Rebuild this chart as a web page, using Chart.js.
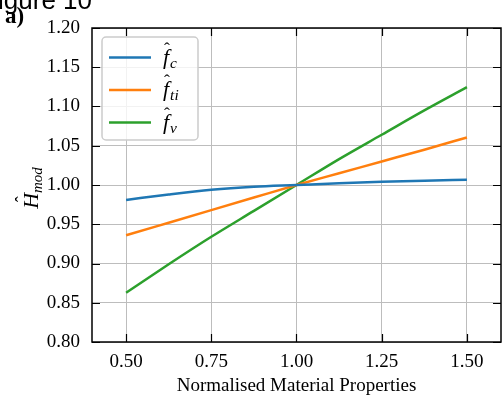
<!DOCTYPE html>
<html lang="en">
<head>
    <meta charset="UTF-8">
    <title>Figure 10 a)</title>
    <script src="https://cdn.jsdelivr.net/npm/chart.js"></script>
    <style>
        html, body { margin: 0; padding: 0; background: #fff; }
        #wrap { width: 503px; height: 397px; position: relative; }
    </style>
</head>
<body>
    <div id="wrap"><canvas id="chart" width="503" height="397"></canvas></div>
    <script>
        // Werte
        const props = [0.5, 0.625, 0.75, 0.875, 1.0, 1.125, 1.25, 1.375, 1.5];
        const fC  = [0.981, 0.988, 0.994, 0.9978, 1.000, 1.0022, 1.0040, 1.0055, 1.0068];
        const fTi = [0.936, 0.952, 0.968, 0.984, 1.000, 1.015, 1.030, 1.045, 1.0606];
        const fV  = [0.8628, 0.899, 0.934, 0.967, 1.000, 1.033, 1.064, 1.095, 1.1246];

        const xTicks = [0.5, 0.75, 1.0, 1.25, 1.5];
        const yTicks = [0.80, 0.85, 0.90, 0.95, 1.00, 1.05, 1.10, 1.15, 1.20];

        const seriesSubs = ['c', 'ti', 'v'];
        const colors = ['#1f77b4', '#ff7f0e', '#2ca02c'];

        const serif = '"Liberation Serif", "DejaVu Serif", serif';

        function toPoints(ys) {
            return props.map((x, i) => ({ x: x, y: ys[i] }));
        }

        // f mit Dach und Index
        function drawMath(ctx, x, y, base, sub, size) {
            ctx.font = 'italic ' + size + 'px ' + serif;
            ctx.textAlign = 'left';
            ctx.textBaseline = 'alphabetic';
            const w = ctx.measureText(base).width;
            ctx.fillText(base, x, y);
            ctx.font = (size * 0.8) + 'px ' + serif;
            ctx.textAlign = 'center';
            ctx.fillText('\u02C6', x + w * 0.65, y - size * 0.45);
            ctx.textAlign = 'left';
            ctx.font = 'italic ' + (size * 0.7) + 'px ' + serif;
            ctx.fillText(sub, x + w + 1, y + size * 0.2);
        }

        const decoPlugin = {
            id: 'deco',
            afterDraw(chart) {
                const ctx = chart.ctx;
                const a = chart.chartArea;
                const xs = chart.scales.x, ys = chart.scales.y;
                ctx.save();

                // Ticks nach innen
                ctx.strokeStyle = '#000';
                ctx.lineWidth = 1.2;
                const tl = 8;
                ctx.beginPath();
                xTicks.forEach(v => {
                    const px = Math.round(xs.getPixelForValue(v)) + 0.5;
                    ctx.moveTo(px, a.bottom); ctx.lineTo(px, a.bottom - tl);
                    ctx.moveTo(px, a.top); ctx.lineTo(px, a.top + tl);
                });
                yTicks.forEach(v => {
                    const py = Math.round(ys.getPixelForValue(v)) + 0.5;
                    ctx.moveTo(a.left, py); ctx.lineTo(a.left + tl, py);
                    ctx.moveTo(a.right, py); ctx.lineTo(a.right - tl, py);
                });
                ctx.stroke();

                // Rahmen
                ctx.lineWidth = 1.5;
                ctx.strokeRect(a.left, a.top, a.right - a.left, a.bottom - a.top);

                // Legende
                const lx = 102, ly = 37, lw = 96, lh = 103;
                ctx.beginPath();
                ctx.roundRect(lx, ly, lw, lh, 4);
                ctx.fillStyle = 'rgba(255,255,255,0.8)';
                ctx.fill();
                ctx.strokeStyle = '#cccccc';
                ctx.lineWidth = 1.5;
                ctx.stroke();
                seriesSubs.forEach((s, i) => {
                    const y = 57.5 + i * 32.5;
                    ctx.strokeStyle = colors[i];
                    ctx.lineWidth = 2.5;
                    ctx.beginPath();
                    ctx.moveTo(109, y); ctx.lineTo(151, y);
                    ctx.stroke();
                    ctx.fillStyle = '#000';
                    drawMath(ctx, 163, y + 6, 'f', s, 22);
                });

                // Achsentitel
                ctx.fillStyle = '#000';
                ctx.font = '19px ' + serif;
                ctx.textAlign = 'center';
                ctx.textBaseline = 'alphabetic';
                ctx.fillText('Normalised Material Properties', (a.left + a.right) / 2, 391);

                ctx.save();
                ctx.translate(38, (a.top + a.bottom) / 2 + 3);
                ctx.rotate(-Math.PI / 2);
                ctx.font = 'italic 22px ' + serif;
                const hw = ctx.measureText('H').width;
                ctx.font = 'italic 15px ' + serif;
                const sw = ctx.measureText('mod').width;
                const x0 = -(hw + sw) / 2;
                ctx.textAlign = 'left';
                ctx.font = 'italic 22px ' + serif;
                ctx.fillText('H', x0, 0);
                ctx.font = '18px ' + serif;
                ctx.textAlign = 'center';
                ctx.fillText('\u02C6', x0 + hw * 0.6, -10);
                ctx.textAlign = 'left';
                ctx.font = 'italic 15px ' + serif;
                ctx.fillText('mod', x0 + hw, 4);
                ctx.restore();

                // Beschriftung oben links (angeschnitten)
                ctx.font = '26px "Liberation Sans", Arial, sans-serif';
                ctx.textAlign = 'right';
                ctx.fillText('Figure 10', 92, 9);
                ctx.font = 'bold 23px ' + serif;
                ctx.textAlign = 'left';
                ctx.fillText('a)', 5, 23);

                ctx.restore();
            }
        };

        new Chart(document.getElementById('chart'), {
            type: 'line',
            data: {
                datasets: [
                    { data: toPoints(fC),  borderColor: colors[0] },
                    { data: toPoints(fTi), borderColor: colors[1] },
                    { data: toPoints(fV),  borderColor: colors[2] }
                ]
            },
            options: {
                responsive: false,
                animation: false,
                devicePixelRatio: 1,
                layout: { padding: { left: 0, top: 28, right: 2, bottom: 0 } },
                elements: {
                    point: { radius: 0 },
                    line: { borderWidth: 2.5, cubicInterpolationMode: 'monotone', fill: false }
                },
                plugins: { legend: { display: false }, tooltip: { enabled: false } },
                scales: {
                    x: {
                        type: 'linear',
                        min: 0.4, max: 1.6,
                        afterBuildTicks: s => { s.ticks = xTicks.map(v => ({ value: v })); },
                        afterFit: s => { s.height = 55; },
                        grid: { color: '#bdbdbd', lineWidth: 1, drawTicks: false },
                        border: { display: false },
                        ticks: {
                            color: '#000', padding: 9,
                            font: { family: serif, size: 19 },
                            callback: v => v.toFixed(2)
                        }
                    },
                    y: {
                        min: 0.8, max: 1.2,
                        afterBuildTicks: s => { s.ticks = yTicks.map(v => ({ value: v })); },
                        afterFit: s => { s.width = 92; },
                        grid: { color: '#bdbdbd', lineWidth: 1, drawTicks: false },
                        border: { display: false },
                        ticks: {
                            color: '#000', padding: 12,
                            font: { family: serif, size: 19 },
                            callback: v => v.toFixed(2)
                        }
                    }
                }
            },
            plugins: [decoPlugin]
        });
    </script>
</body>
</html>
